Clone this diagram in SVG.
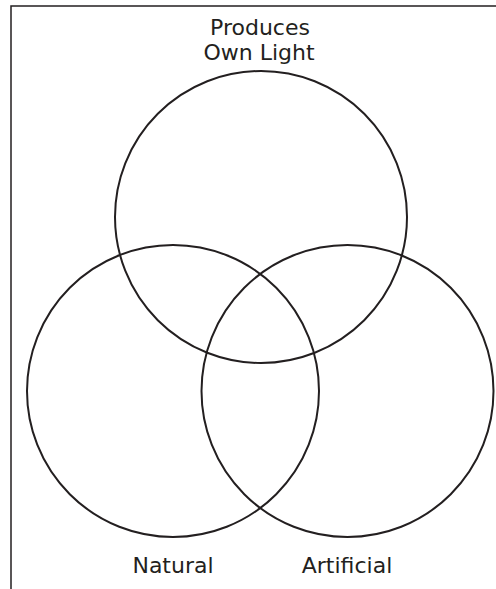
<svg xmlns="http://www.w3.org/2000/svg" width="496" height="589" viewBox="0 0 496 589">
<style>
.c{fill:none;stroke:#231f20;stroke-width:2}
.t{font-family:"Comic Sans MS","DejaVu Sans",sans-serif;font-size:22px;fill:#231f20;text-anchor:middle}
</style>
<rect width="496" height="589" fill="#fff"/>
<g id="frame"><path d="M11,589 V6 H496" fill="none" stroke="#231f20" stroke-width="1.5"/></g>
<g id="produces"><circle class="c" cx="261" cy="217" r="146"/><text class="t" x="260" y="35">Produces</text><text class="t" x="259" y="60">Own Light</text></g>
<g id="natural"><circle class="c" cx="173" cy="391" r="146"/><text class="t" x="173" y="573">Natural</text></g>
<g id="artificial"><circle class="c" cx="347.5" cy="391" r="146"/><text class="t" x="347" y="573">Artificial</text></g>
<g id="connectors"/>
</svg>
